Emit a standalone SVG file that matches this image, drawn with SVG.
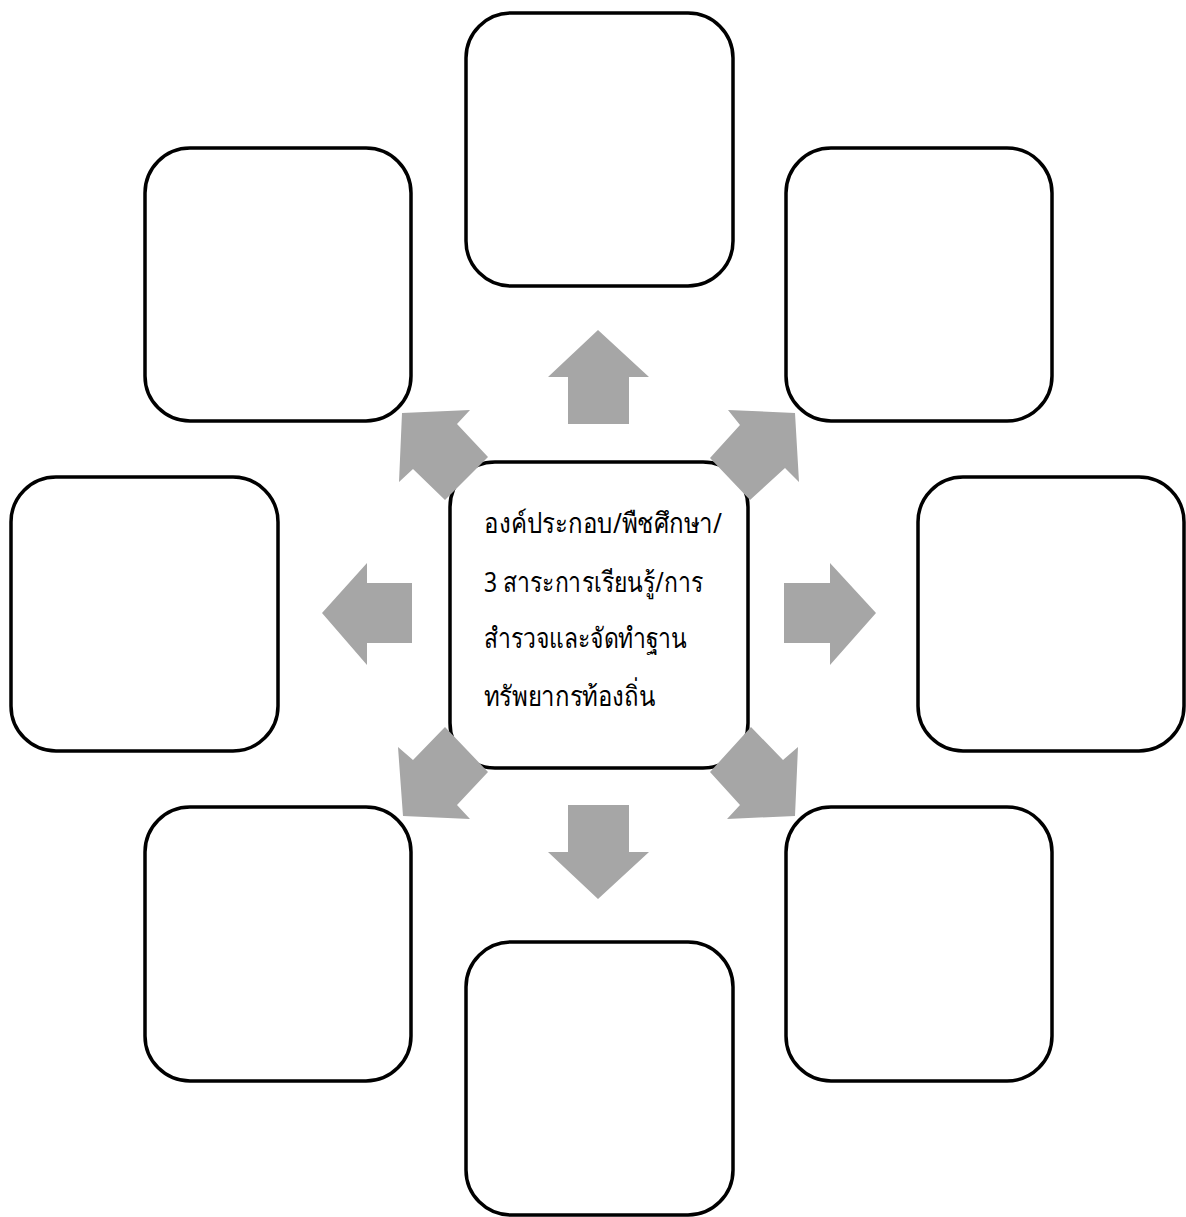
<svg xmlns="http://www.w3.org/2000/svg" width="1186" height="1217" viewBox="0 0 1186 1217">
<style>
.box{fill:#ffffff;stroke:#000000;stroke-width:3.5}
.arr{fill:#a6a6a6;stroke:none}
.lbl{font-family:"Noto Sans","DejaVu Sans",sans-serif;font-size:28px;fill:#000000}
</style>
<rect width="1186" height="1217" fill="#ffffff"/>
<g id="nodes">
<g id="node-top"><rect class="box" x="466" y="13" width="267" height="273" rx="45"/></g>
<g id="node-upper-left"><rect class="box" x="145" y="148" width="266" height="273" rx="45"/></g>
<g id="node-upper-right"><rect class="box" x="786" y="148" width="266" height="273" rx="45"/></g>
<g id="node-left"><rect class="box" x="11" y="477" width="267" height="274" rx="45"/></g>
<g id="node-right"><rect class="box" x="918" y="477" width="266" height="274" rx="45"/></g>
<g id="node-lower-left"><rect class="box" x="145" y="807" width="266" height="274" rx="45"/></g>
<g id="node-lower-right"><rect class="box" x="786" y="807" width="266" height="274" rx="45"/></g>
<g id="node-bottom"><rect class="box" x="466" y="942" width="267" height="273" rx="45"/></g>
<g id="node-center">
<rect class="box" x="450" y="462" width="298" height="306" rx="45"/>
<text class="lbl" x="484" y="533" textLength="238" lengthAdjust="spacingAndGlyphs">องค์ประกอบ/พืชศึกษา/</text>
<text class="lbl" x="484" y="592" textLength="219" lengthAdjust="spacingAndGlyphs">3 สาระการเรียนรู้/การ</text>
<text class="lbl" x="484" y="648" textLength="203" lengthAdjust="spacingAndGlyphs">สำรวจและจัดทำฐาน</text>
<text class="lbl" x="484" y="706" textLength="171" lengthAdjust="spacingAndGlyphs">ทรัพยากรท้องถิ่น</text>
</g>
</g>
<g id="connectors">
<polygon class="arr" points="598,330 649,377 629,377 629,424 568,424 568,377 548,377"/>
<polygon class="arr" points="598,899 649,852 629,852 629,805 568,805 568,852 548,852"/>
<polygon class="arr" points="322,613 367,563 367,583 412,583 412,643 367,643 367,665"/>
<polygon class="arr" points="876,613 830,563 830,583 784,583 784,643 830,643 830,665"/>
<polygon class="arr" points="795,413 799,482 785,468 750,500 710,458 740,425 728,410"/>
<polygon class="arr" points="402,413 470,410 457,424 488,457 445,500 413,469 399,482"/>
<polygon class="arr" points="403,816 398,747 413,760 445,727 488,772 457,805 470,819"/>
<polygon class="arr" points="795,816 727,819 740,805 710,772 751,727 783,760 798,747"/>
</g>
</svg>
